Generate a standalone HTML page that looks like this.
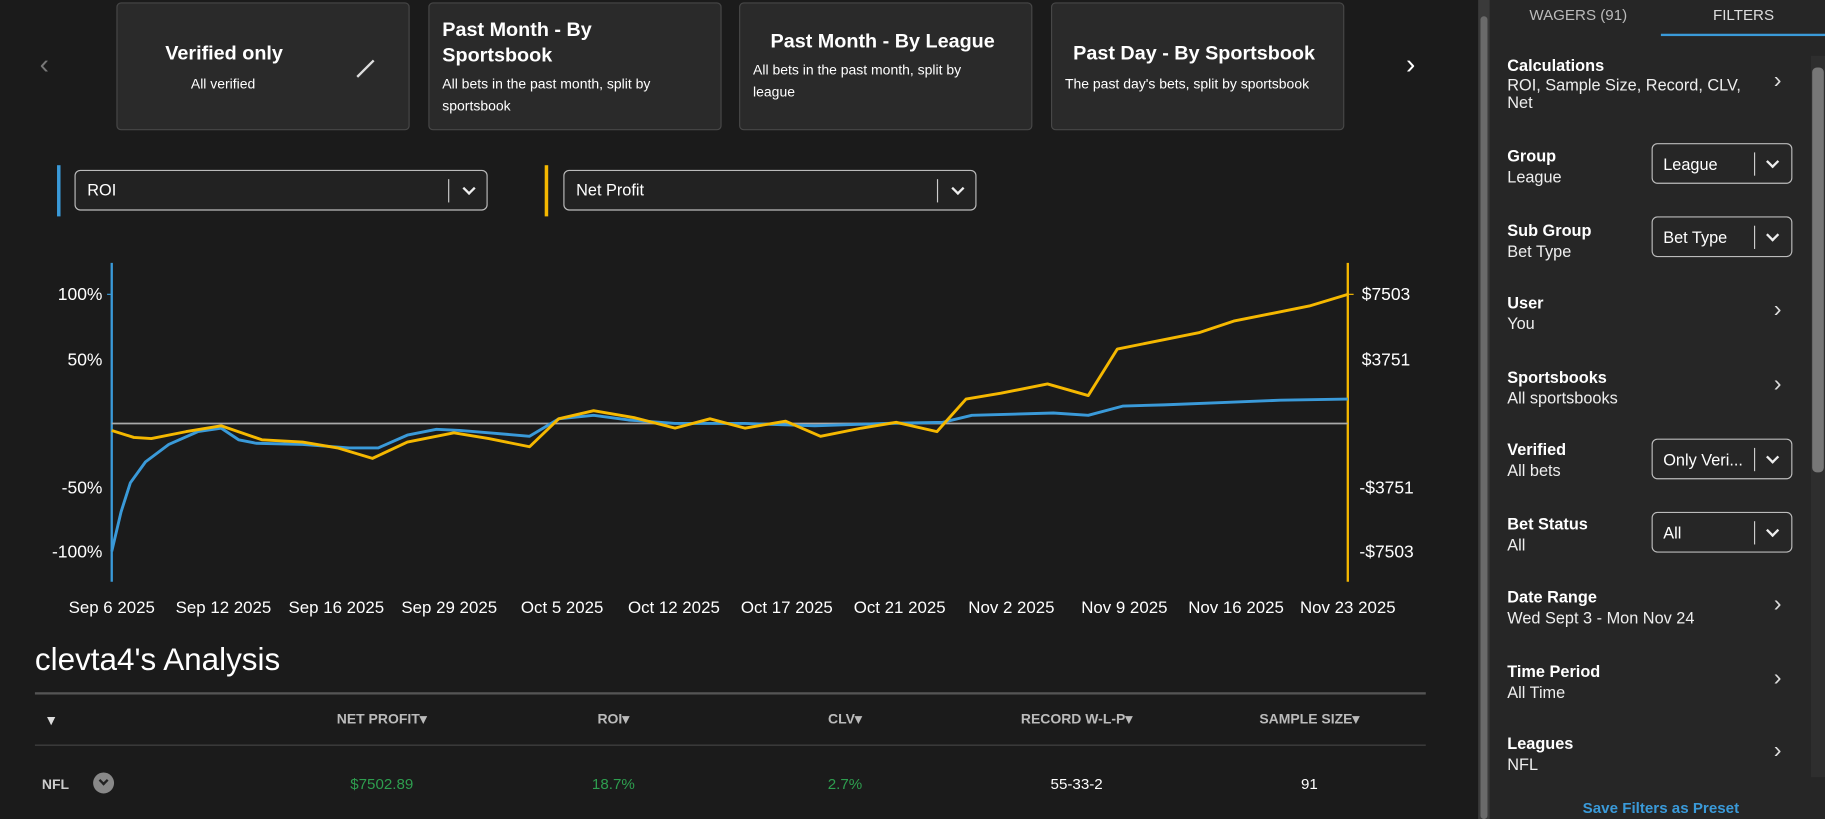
<!DOCTYPE html>
<html><head><style>
*{box-sizing:border-box;margin:0;padding:0}
body{width:1825px;height:819px;overflow:hidden;background:#1b1b1b;font-family:"Liberation Sans",sans-serif;color:#fff}
#w{position:absolute;left:0;top:0;width:1568px;height:704px;transform:scale(1.1639,1.1634);transform-origin:0 0;background:#1b1b1b}
.a{position:absolute}
.card{position:absolute;top:2px;height:110px;width:252px;background:#2a2a2a;border:1px solid #474747;border-radius:4px}
.card h3{font-size:17px;font-weight:bold;line-height:22px}
.card p{font-size:12px;line-height:19px}
.dd{position:absolute;height:35px;border:1px solid #bbb;border-radius:5px;background:#222;font-size:14px}
.sep{position:absolute;top:7px;width:1px;height:20px;background:#ccc}
.cv{position:absolute;top:11px;width:8px;height:8px;border-right:2px solid #eee;border-bottom:2px solid #eee;transform:rotate(45deg)}
.lab{position:absolute;left:1295px;font-size:14px;font-weight:bold}
.val{position:absolute;left:1295px;font-size:14px;color:#eee}
.chev{position:absolute;left:1524px;font-size:20px;color:#ddd}
.th{position:absolute;top:611px;font-size:12px;font-weight:bold;color:#bbb;transform:translateX(-50%)}
.td{position:absolute;top:666px;font-size:13px;transform:translateX(-50%)}
</style></head><body><div id="w">
<div class="a" style="left:34px;top:42px;font-size:24px;color:#777">‹</div>
<div class="a" style="left:1208px;top:42px;font-size:24px;color:#fff">›</div>
<div class="card" style="left:100px"><h3 class="a" style="left:41px;top:32px">Verified only</h3><p class="a" style="left:63px;top:60px">All verified</p><div class="a" style="left:212px;top:46px;width:2px;height:20px;background:#ddd;transform:rotate(45deg)"></div></div>
<div class="card" style="left:368px"><h3 class="a" style="left:11px;top:12px">Past Month - By<br>Sportsbook</h3><p class="a" style="left:11px;top:60px">All bets in the past month, split by<br>sportsbook</p></div>
<div class="card" style="left:635px"><h3 class="a" style="left:26px;top:22px">Past Month - By League</h3><p class="a" style="left:11px;top:48px">All bets in the past month, split by<br>league</p></div>
<div class="card" style="left:903px"><h3 class="a" style="left:18px;top:32px">Past Day - By Sportsbook</h3><p class="a" style="left:11px;top:60px">The past day's bets, split by sportsbook</p></div>

<div class="a" style="left:49px;top:142px;width:3px;height:44px;background:#3a9ad9"></div>
<div class="dd" style="left:64px;top:146px;width:355px"><span class="a" style="left:10px;top:8px">ROI</span><div class="sep" style="left:320px"></div><div class="cv" style="left:334px"></div></div>
<div class="a" style="left:468px;top:142px;width:3px;height:44px;background:#f5b800"></div>
<div class="dd" style="left:484px;top:146px;width:355px"><span class="a" style="left:10px;top:8px">Net Profit</span><div class="sep" style="left:320px"></div><div class="cv" style="left:334px"></div></div>

<svg class="a" style="left:0;top:0" width="1260" height="540">
<g font-family="Liberation Sans" font-size="15" fill="#fff">
<line x1="96" y1="226" x2="96" y2="500" stroke="#3a9ad9" stroke-width="2"/>
<line x1="1158" y1="226" x2="1158" y2="500" stroke="#f5b800" stroke-width="2"/>
<line x1="96" y1="364" x2="1158" y2="364" stroke="#aaa" stroke-width="1.5"/>
<text x="88" y="258" text-anchor="end">100%</text><text x="88" y="314" text-anchor="end">50%</text><text x="88" y="424" text-anchor="end">-50%</text><text x="88" y="479" text-anchor="end">-100%</text>
<text x="1170" y="258">$7503</text><text x="1170" y="314">$3751</text><text x="1168" y="424">-$3751</text><text x="1168" y="479">-$7503</text>
<g stroke-width="1"><line x1="92" x2="96" y1="253" y2="253" stroke="#3a9ad9"/><line x1="1158" x2="1163" y1="253" y2="253" stroke="#f5b800"/></g>
<g text-anchor="middle" font-size="14.5"><text x="96" y="527">Sep 6 2025</text><text x="192" y="527">Sep 12 2025</text><text x="289" y="527">Sep 16 2025</text><text x="386" y="527">Sep 29 2025</text><text x="483" y="527">Oct 5 2025</text><text x="579" y="527">Oct 12 2025</text><text x="676" y="527">Oct 17 2025</text><text x="773" y="527">Oct 21 2025</text><text x="869" y="527">Nov 2 2025</text><text x="966" y="527">Nov 9 2025</text><text x="1062" y="527">Nov 16 2025</text><text x="1158" y="527">Nov 23 2025</text></g>
</g>
<polyline fill="none" stroke="#3a9ad9" stroke-width="2.5" stroke-linejoin="round" points="96,474 104,440 112,415 125,397 145,382 170,371 190,368 205,378 220,381 260,382 300,385 325,385 350,374 375,369 395,370 420,372 455,375 480,360 510,357 540,361 580,364 640,364 700,366 760,364 810,363 835,357 870,356 905,355 935,357 965,349 1000,348 1050,346 1100,344 1158,343"/>
<polyline fill="none" stroke="#f5b800" stroke-width="2.5" stroke-linejoin="round" points="96,370 115,376 130,377 160,371 190,366 225,378 260,380 290,385 320,394 350,380 390,372 420,377 455,384 480,360 510,353 545,359 580,368 610,360 640,368 675,362 705,375 740,368 770,363 805,371 830,343 860,338 900,330 935,340 960,300 1000,292 1030,286 1060,276 1100,268 1125,263 1158,253"/>
</svg>

<div class="a" style="left:30px;top:552px;font-size:27px">clevta4's Analysis</div>
<div class="a" style="left:30px;top:595px;width:1195px;height:2px;background:#555"></div>
<div class="a" style="left:38px;top:612px;font-size:12px;color:#ddd">▼</div>
<div class="th" style="left:328px">NET PROFIT▾</div><div class="th" style="left:527px">ROI▾</div><div class="th" style="left:726px">CLV▾</div><div class="th" style="left:925px">RECORD W-L-P▾</div><div class="th" style="left:1125px">SAMPLE SIZE▾</div>
<div class="a" style="left:30px;top:640px;width:1195px;height:1px;background:#444"></div>
<div class="a" style="left:36px;top:667px;font-size:12px;font-weight:bold;color:#ccc">NFL</div>
<div class="a" style="left:80px;top:664px;width:18px;height:18px;border-radius:50%;background:#888"><div class="a" style="left:6px;top:4px;width:6px;height:6px;border-right:2px solid #222;border-bottom:2px solid #222;transform:rotate(45deg)"></div></div>
<div class="td" style="left:328px;color:#2e9e4f">$7502.89</div><div class="td" style="left:527px;color:#2e9e4f">18.7%</div><div class="td" style="left:726px;color:#2e9e4f">2.7%</div><div class="td" style="left:925px">55-33-2</div><div class="td" style="left:1125px">91</div>

<div class="a" style="left:1270px;top:0;width:10px;height:704px;background:#3a3a3a"></div>
<div class="a" style="left:1272px;top:14px;width:6px;height:690px;background:#6a6a6a;border-radius:3px"></div>
<div class="a" style="left:1280px;top:0;width:288px;height:704px;background:#262626"></div>
<div class="a" style="left:1556px;top:48px;width:12px;height:620px;background:#2e2e2e"></div>
<div class="a" style="left:1557px;top:58px;width:10px;height:348px;background:#777;border-radius:4px"></div>
<div class="a" style="left:1356px;top:5px;font-size:13px;color:#bbb;transform:translateX(-50%)">WAGERS (91)</div>
<div class="a" style="left:1498px;top:5px;font-size:13px;color:#ddd;transform:translateX(-50%)">FILTERS</div>
<div class="a" style="left:1427px;top:29px;width:141px;height:2px;background:#3a9ad9"></div>

<div class="lab" style="top:48px">Calculations</div><div class="val" style="top:66px;line-height:15px">ROI, Sample Size, Record, CLV,<br>Net</div><div class="chev" style="top:58px">›</div>
<div class="lab" style="top:126px">Group</div><div class="val" style="top:144px">League</div>
<div class="lab" style="top:190px">Sub Group</div><div class="val" style="top:208px">Bet Type</div>
<div class="lab" style="top:252px">User</div><div class="val" style="top:270px">You</div><div class="chev" style="top:255px">›</div>
<div class="lab" style="top:316px">Sportsbooks</div><div class="val" style="top:334px">All sportsbooks</div><div class="chev" style="top:319px">›</div>
<div class="lab" style="top:378px">Verified</div><div class="val" style="top:396px">All bets</div>
<div class="lab" style="top:442px">Bet Status</div><div class="val" style="top:460px">All</div>
<div class="lab" style="top:505px">Date Range</div><div class="val" style="top:523px">Wed Sept 3 - Mon Nov 24</div><div class="chev" style="top:508px">›</div>
<div class="lab" style="top:569px">Time Period</div><div class="val" style="top:587px">All Time</div><div class="chev" style="top:572px">›</div>
<div class="lab" style="top:631px">Leagues</div><div class="val" style="top:649px">NFL</div><div class="chev" style="top:634px">›</div>
<div class="dd" style="left:1419px;top:123px;width:121px;background:#262626"><span class="a" style="left:9px;top:9px">League</span><div class="sep" style="left:87px"></div><div class="cv" style="left:99px"></div></div>
<div class="dd" style="left:1419px;top:186px;width:121px;background:#262626"><span class="a" style="left:9px;top:9px">Bet Type</span><div class="sep" style="left:87px"></div><div class="cv" style="left:99px"></div></div>
<div class="dd" style="left:1419px;top:377px;width:121px;background:#262626"><span class="a" style="left:9px;top:9px">Only Veri...</span><div class="sep" style="left:87px"></div><div class="cv" style="left:99px"></div></div>
<div class="dd" style="left:1419px;top:440px;width:121px;background:#262626"><span class="a" style="left:9px;top:9px">All</span><div class="sep" style="left:87px"></div><div class="cv" style="left:99px"></div></div>
<div class="a" style="left:1427px;top:687px;font-size:13px;font-weight:bold;color:#3a9ad9;transform:translateX(-50%);white-space:nowrap">Save Filters as Preset</div>
</div></body></html>
